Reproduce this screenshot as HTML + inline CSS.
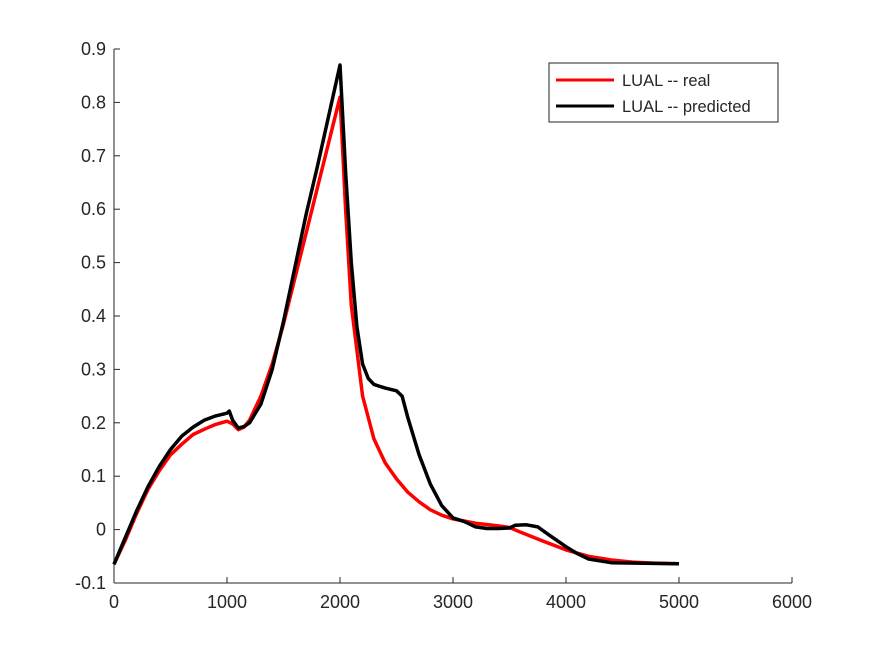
<!DOCTYPE html>
<html><head><meta charset="utf-8"><style>
body{margin:0;background:#fff;}
svg text{font-family:"Liberation Sans",Arial,sans-serif;fill:#262626;}
</style></head><body>
<svg id="chart" width="875" height="656" xmlns="http://www.w3.org/2000/svg">
<rect width="875" height="656" fill="#fff"/>
<g id="axes"></g>
<g id="series"></g>
<g>
<rect x="549" y="63" width="229" height="59" fill="#fff" stroke="#262626" stroke-width="1"/>
<line x1="556" y1="80" x2="614" y2="80" stroke="#ff0000" stroke-width="3"/>
<text x="622" y="86" font-size="16.5">LUAL -- real</text>
<line x1="556" y1="106" x2="614" y2="106" stroke="#000" stroke-width="3"/>
<text x="622" y="112" font-size="16.5">LUAL -- predicted</text>
</g>
</svg>
<script>
const xTicks=[0,1000,2000,3000,4000,5000,6000];
const yTicks=[-0.1,0,0.1,0.2,0.3,0.4,0.5,0.6,0.7,0.8,0.9];
const realX=[0,100,200,300,400,500,600,700,800,900,1000,1050,1100,1150,1200,1300,1400,1500,1600,1700,1800,1900,2000,2050,2100,2200,2300,2400,2500,2600,2700,2800,2900,3000,3200,3400,3500,3600,3800,4000,4200,4400,4600,4800,5000];
const realY=[-0.065,-0.02,0.03,0.075,0.11,0.14,0.16,0.178,0.188,0.197,0.203,0.198,0.187,0.192,0.205,0.25,0.31,0.385,0.47,0.555,0.64,0.725,0.81,0.6,0.42,0.25,0.17,0.125,0.095,0.07,0.052,0.037,0.027,0.02,0.012,0.007,0.004,-0.005,-0.022,-0.038,-0.05,-0.057,-0.061,-0.063,-0.064];
const predX=[0,100,200,300,400,500,600,700,800,900,1000,1020,1050,1100,1150,1200,1300,1400,1500,1600,1700,1800,1900,2000,2050,2100,2150,2200,2250,2300,2400,2500,2550,2600,2700,2800,2900,3000,3100,3200,3300,3400,3500,3550,3650,3750,3850,4000,4100,4200,4400,5000];
const predY=[-0.065,-0.015,0.035,0.08,0.118,0.15,0.175,0.192,0.205,0.213,0.218,0.222,0.205,0.19,0.193,0.2,0.235,0.3,0.39,0.49,0.59,0.68,0.775,0.87,0.67,0.5,0.38,0.31,0.283,0.272,0.265,0.26,0.25,0.21,0.14,0.085,0.045,0.022,0.015,0.005,0.002,0.002,0.003,0.008,0.009,0.005,-0.01,-0.032,-0.045,-0.055,-0.062,-0.064];
const L=114,R=792,T=49,B=583;
const sx=v=>L+(v-0)/6000*(R-L);
const sy=v=>B-(v+0.1)/1.0*(B-T);
const NS="http://www.w3.org/2000/svg";
const axes=document.getElementById('axes'),ser=document.getElementById('series');
function mk(tag,attrs,parent){const e=document.createElementNS(NS,tag);for(const k in attrs)e.setAttribute(k,attrs[k]);parent.appendChild(e);return e;}
let e=mk('line',{x1:L,y1:B,x2:R,y2:B,stroke:'#262626','stroke-width':1},axes);


e=mk('line',{x1:L,y1:T,x2:L,y2:B,stroke:'#262626','stroke-width':1},axes);


xTicks.forEach(t=>{
 const tk=mk('line',{x1:sx(t),y1:B,x2:sx(t),y2:B-6,stroke:'#262626'},axes);
 
 
 const tx=mk('text',{x:sx(t),y:B+25,'font-size':18,'text-anchor':'middle'},axes);
 tx.textContent=t;
 
 
});
yTicks.forEach(t=>{
 const tk=mk('line',{x1:L,y1:sy(t),x2:L+6,y2:sy(t),stroke:'#262626'},axes);
 
 
 const tx=mk('text',{x:L-8,y:sy(t)+6,'font-size':18,'text-anchor':'end'},axes);
 tx.textContent=(Math.round(t*10)/10).toString();
 
 
});
function line(xs,ys){return xs.map((x,i)=>(i?'L':'M')+sx(x).toFixed(1)+' '+sy(ys[i]).toFixed(1)).join(' ');}
let p=mk('path',{d:line(realX,realY),fill:'none',stroke:'#ff0000','stroke-width':3.5,'stroke-linejoin':'round'},ser);


p=mk('path',{d:line(predX,predY),fill:'none',stroke:'#000','stroke-width':3.5,'stroke-linejoin':'round'},ser);


</script>
</body></html>
